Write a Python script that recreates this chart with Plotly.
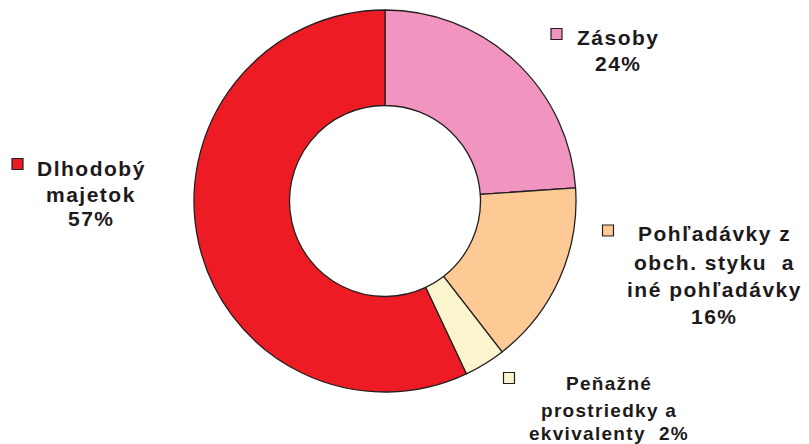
import plotly.graph_objects as go

# ---- data ----
categories = ["Zásoby", "Pohľadávky z obch. styku a iné pohľadávky",
              "Peňažné prostriedky a ekvivalenty", "Dlhodobý majetok"]
values = [23.9, 15.6, 3.5, 57.0]          # slice sizes
pct_labels = ["24%", "16%", "2%", "57%"]  # printed percentages
label_text_lines = [
    ["Zásoby"],
    ["Pohľadávky z", "obch. styku  a", "iné pohľadávky"],
    ["Peňažné", "prostriedky a", "ekvivalenty"],
    ["Dlhodobý", "majetok"],
]
pct_on_last_line = [False, False, True, False]
colors = ["#F194C0", "#FDC994", "#FBF5CD", "#ED1C24"]

# ---- layout / style ----
W, H = 809, 444
cx, cy, R = 385, 201, 191
font_sizes = [21, 21, 19, 21]
letter_sp = [1.5, 1.5, 1.3, 1.5]
line_x = [618, 714, 609, 91]
line_y = [[37, 63], [234, 262, 289, 316], [383, 410, 433], [168, 194, 219]]
square_c = [(556.5, 34), (608, 230.5), (509, 378), (17.5, 164)]
sq = 11
edge = "#231F20"

fig = go.Figure(go.Pie(
    labels=categories, values=values, sort=False, direction="clockwise",
    rotation=0, hole=0.5, textinfo="none", hoverinfo="label+percent",
    marker=dict(colors=colors, line=dict(color=edge, width=1.3)),
    domain=dict(x=[(cx - R) / W, (cx + R) / W], y=[1 - (cy + R) / H, 1 - (cy - R) / H]),
    showlegend=False,
))

annotations = []
shapes = []
for i in range(len(categories)):
    lines = list(label_text_lines[i])
    if pct_on_last_line[i]:
        lines[-1] = lines[-1] + "  " + pct_labels[i]
    else:
        lines.append(pct_labels[i])
    for ln, yy in zip(lines, line_y[i]):
        annotations.append(dict(
            text=f'<span style="letter-spacing:{letter_sp[i]}px">{ln}</span>',
            x=line_x[i] / W, y=1 - yy / H, xref="paper", yref="paper",
            xanchor="center", yanchor="middle", showarrow=False,
            font=dict(family="Liberation Sans, Arial, sans-serif", size=font_sizes[i],
                      color="#1E1A1B", weight="bold"),
        ))
    sx, sy = square_c[i]
    shapes.append(dict(
        type="rect", xref="paper", yref="paper",
        x0=(sx - sq / 2) / W, x1=(sx + sq / 2) / W,
        y0=1 - (sy + sq / 2) / H, y1=1 - (sy - sq / 2) / H,
        fillcolor=colors[i], line=dict(color=edge, width=1.2),
    ))

fig.update_layout(
    width=W, height=H, margin=dict(l=0, r=0, t=0, b=0),
    paper_bgcolor="white", plot_bgcolor="white",
    annotations=annotations, shapes=shapes,
)

fig.write_html("out.html", config={"displayModeBar": False},
               post_script="document.body.style.margin='0';document.body.style.overflow='hidden';")
